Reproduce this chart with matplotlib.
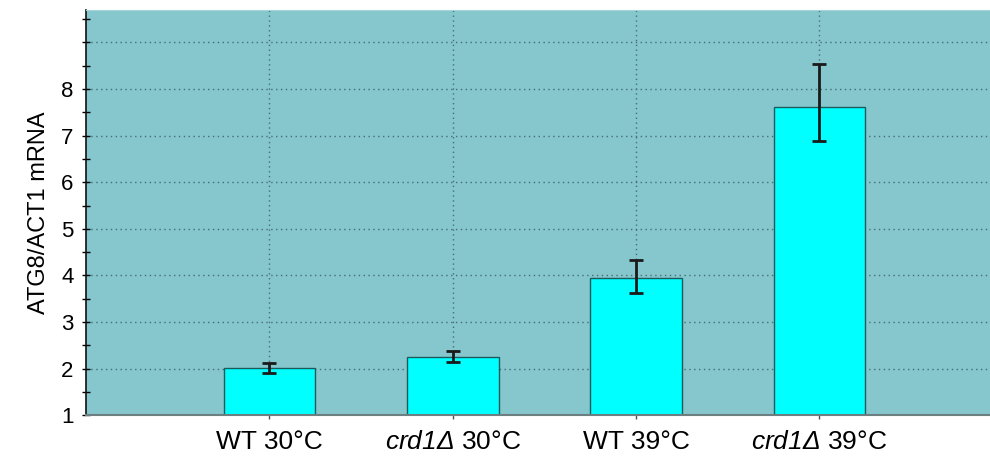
import numpy as np
import matplotlib
matplotlib.use('Agg')
import matplotlib.pyplot as plt
from matplotlib.ticker import MultipleLocator

plt.rcParams['font.family'] = ['Liberation Sans', 'DejaVu Sans']
plt.rcParams['mathtext.fontset'] = 'custom'
plt.rcParams['mathtext.rm'] = 'Liberation Sans:italic'
plt.rcParams['mathtext.it'] = 'Liberation Sans:italic'

# data
labels = ['WT 30°C', r'$\mathrm{crd1Δ}$ 30°C', 'WT 39°C', r'$\mathrm{crd1Δ}$ 39°C']
means = [2.01, 2.24, 3.94, 7.61]
err_low = [0.11, 0.10, 0.32, 0.72]
err_high = [0.11, 0.13, 0.39, 0.92]
ytick_vals = [1, 2, 3, 4, 5, 6, 7, 8, 9]
ytick_labels = ['1', '2', '3', '4', '5', '6', '7', '8', '']

x = np.arange(1, len(means) + 1)

fig = plt.figure(figsize=(9.9, 4.66), dpi=100)
ax = fig.add_axes([0.087, 0.109, 0.913, 0.87])
ax.set_facecolor('#86c6cd')
ax.set_axisbelow(True)

ax.grid(True, which='major', linestyle=(0, (1, 2.5)), color='#456f75', linewidth=1.0)

ax.bar(x, means, width=0.5, bottom=0, color='#00ffff', edgecolor='#1d5a5c',
       linewidth=1.0, zorder=2)
ax.errorbar(x, means, yerr=[err_low, err_high], fmt='none', ecolor='#1a1a1a',
            elinewidth=2, capsize=5, capthick=2, zorder=3)

ax.set_xlim(0, 4.93)
ax.set_ylim(1, 9.7)
ax.set_xticks(x)
ax.set_xticklabels(labels, fontsize=19)
ax.set_yticks(ytick_vals)
ax.set_yticklabels(ytick_labels, fontsize=16)
ax.yaxis.set_minor_locator(MultipleLocator(0.5))

ax.tick_params(axis='y', which='both', direction='inout', length=6, width=1, pad=6)
ax.tick_params(axis='x', direction='out', length=3, width=1, color='#555555', pad=8)

ax.set_ylabel('ATG8/ACT1 mRNA', fontsize=17, labelpad=8)

ax.spines['top'].set_color('#a6d6db')
ax.spines['right'].set_visible(False)
ax.spines['bottom'].set_color('#6e7f82')
ax.spines['bottom'].set_linewidth(1.5)
ax.spines['left'].set_color('#111111')
ax.spines['left'].set_linewidth(1.2)

fig.savefig('out.png', dpi=100, facecolor='white')
